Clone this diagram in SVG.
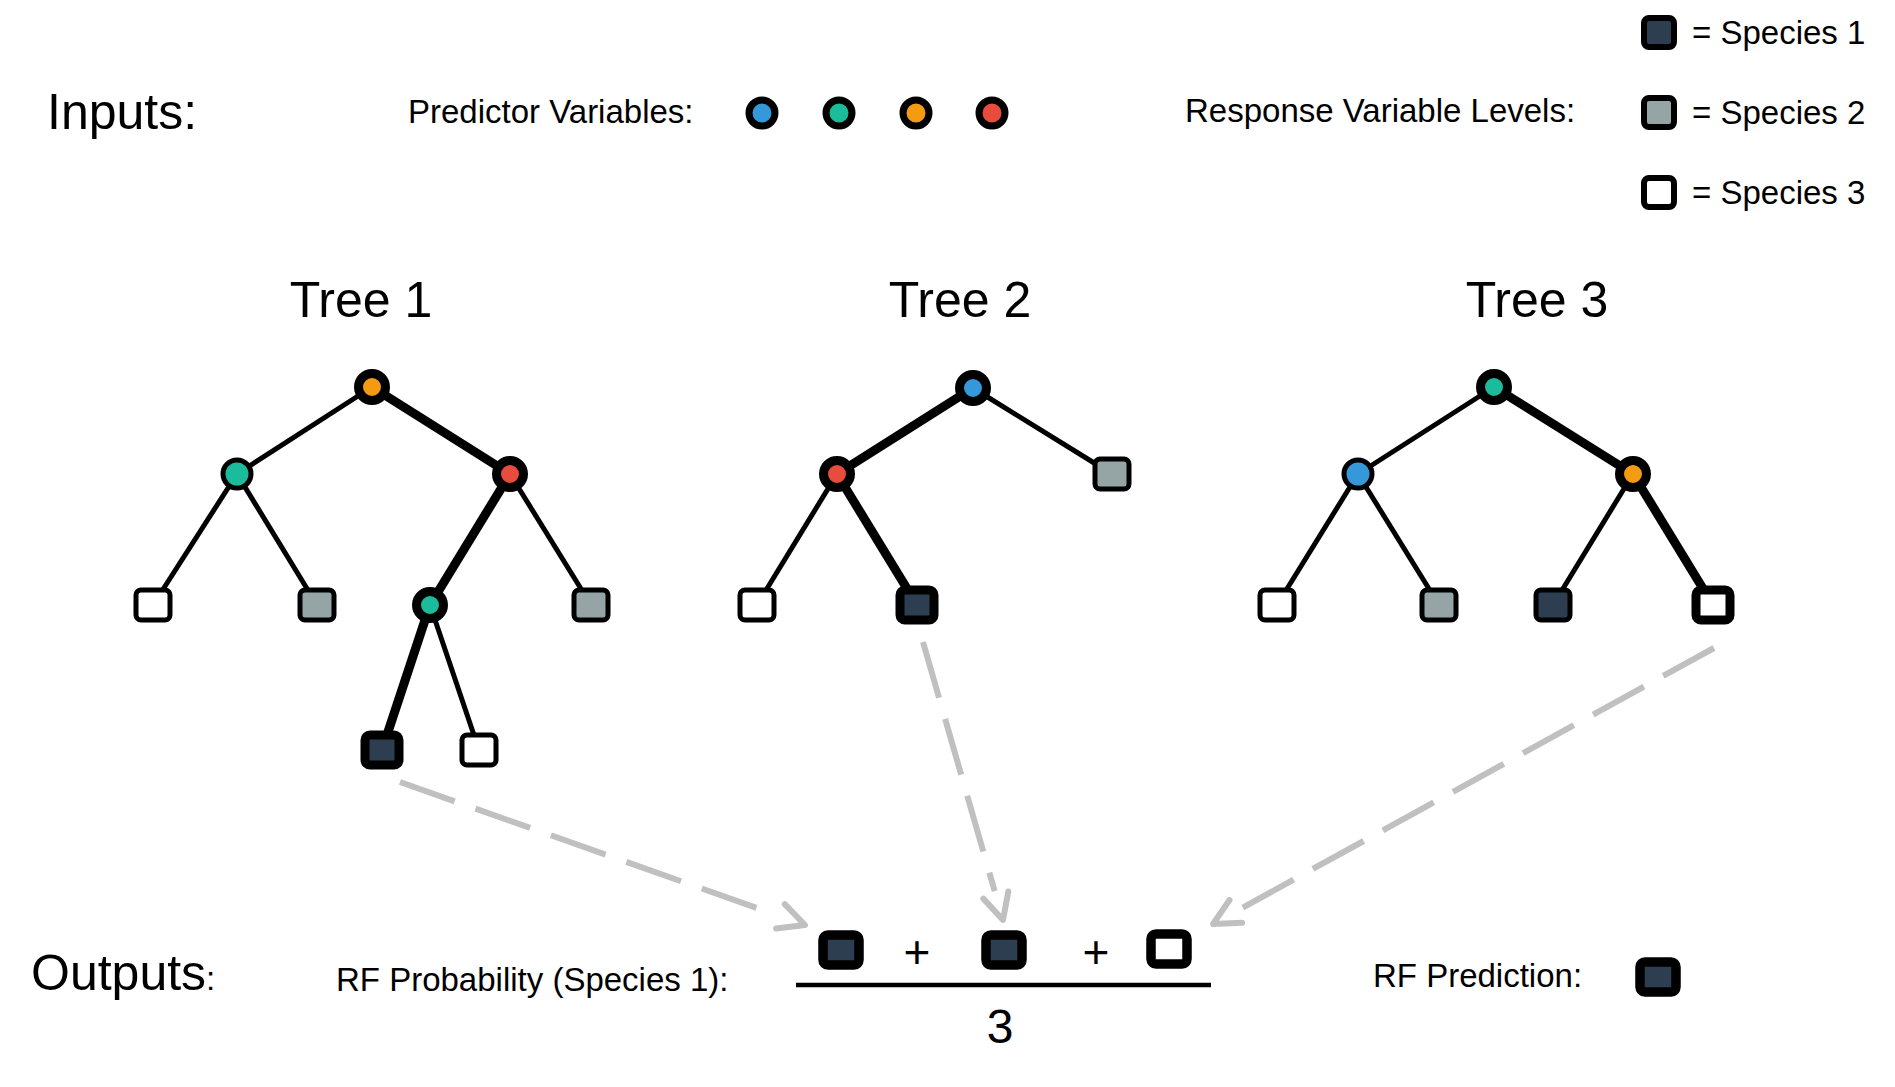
<svg xmlns="http://www.w3.org/2000/svg" width="1895" height="1087" viewBox="0 0 1895 1087">
<defs>
<style>
text{font-family:"Liberation Sans",Arial,Helvetica,sans-serif;fill:#000}
.sm{font-size:33px}
.lg{font-size:50px}
.e{stroke:#000;stroke-width:5;fill:none}
.E{stroke:#000;stroke-width:9;fill:none}
.c{stroke:#000;stroke-width:5}
.C{stroke:#000;stroke-width:9}
.dash{stroke:#c0c0c0;stroke-width:6;fill:none;stroke-dasharray:58 22;marker-end:url(#chev)}
.blue{fill:#3498db}.teal{fill:#1abc9c}.orange{fill:#f39c12}.red{fill:#e74c3c}
.dark{fill:#2c3e50}.gray{fill:#95a5a6}.white{fill:#fff}
</style>
<marker id="chev" markerUnits="userSpaceOnUse" orient="auto" viewBox="-10 -30 60 60" markerWidth="60" markerHeight="60" refX="0" refY="0" overflow="visible">
<path d="M 4 -13 L 30 0 L 4 13" fill="none" stroke="#c0c0c0" stroke-width="6" stroke-linecap="round" stroke-linejoin="round" stroke-dasharray="none"/>
</marker>
<rect id="leaf" x="-17" y="-15" width="34" height="30" rx="5"/>
<rect id="big" x="-18" y="-15" width="36" height="30" rx="5"/>
</defs>
<rect width="1895" height="1087" fill="#fff"/>

<g id="header">
<text class="lg" x="47" y="129">Inputs:</text>
<text class="sm" x="408" y="123">Predictor Variables:</text>
<g id="predictors">
<circle class="blue" cx="762" cy="113" r="13" stroke="#000" stroke-width="7"/>
<circle class="teal" cx="839" cy="113" r="13" stroke="#000" stroke-width="7"/>
<circle class="orange" cx="916" cy="113" r="13" stroke="#000" stroke-width="7"/>
<circle class="red" cx="992" cy="113" r="13" stroke="#000" stroke-width="7"/>
</g>
<text class="sm" x="1185" y="122">Response Variable Levels:</text>
<g id="legend">
<rect class="dark" x="1644" y="18" width="30" height="29" rx="5" stroke="#000" stroke-width="6"/>
<text class="sm" x="1692" y="44">= Species 1</text>
<rect class="gray" x="1644" y="98" width="30" height="29" rx="5" stroke="#000" stroke-width="6"/>
<text class="sm" x="1692" y="124">= Species 2</text>
<rect class="white" x="1644" y="178" width="30" height="29" rx="5" stroke="#000" stroke-width="6"/>
<text class="sm" x="1692" y="204">= Species 3</text>
</g>
</g>

<g id="titles">
<text class="lg" x="361" y="317" text-anchor="middle">Tree 1</text>
<text class="lg" x="960" y="317" text-anchor="middle">Tree 2</text>
<text class="lg" x="1537" y="317" text-anchor="middle">Tree 3</text>
</g>

<g id="connectors">
<!-- Tree 1 -->
<line class="e" x1="372" y1="387" x2="237" y2="474"/>
<line class="E" x1="372" y1="387" x2="510" y2="474"/>
<line class="e" x1="237" y1="474" x2="153" y2="605"/>
<line class="e" x1="237" y1="474" x2="317" y2="605"/>
<line class="E" x1="510" y1="474" x2="430" y2="605"/>
<line class="e" x1="510" y1="474" x2="591" y2="605"/>
<line class="E" x1="430" y1="605" x2="382" y2="750"/>
<line class="e" x1="430" y1="605" x2="479" y2="750"/>
<!-- Tree 2 -->
<line class="E" x1="973" y1="388" x2="837" y2="474"/>
<line class="e" x1="973" y1="388" x2="1112" y2="474"/>
<line class="e" x1="837" y1="474" x2="757" y2="605"/>
<line class="E" x1="837" y1="474" x2="917" y2="605"/>
<!-- Tree 3 -->
<line class="e" x1="1494" y1="387" x2="1358" y2="474"/>
<line class="E" x1="1494" y1="387" x2="1633" y2="474"/>
<line class="e" x1="1358" y1="474" x2="1277" y2="605"/>
<line class="e" x1="1358" y1="474" x2="1439" y2="605"/>
<line class="e" x1="1633" y1="474" x2="1553" y2="605"/>
<line class="E" x1="1633" y1="474" x2="1713" y2="605"/>
<!-- dashed arrows -->
<line class="dash" x1="400" y1="782" x2="776.7" y2="915"/>
<line class="dash" x1="923" y1="642" x2="994.7" y2="891.2"/>
<line class="dash" x1="1714" y1="648" x2="1239.3" y2="909.5"/>
</g>

<g id="tree1">
<circle id="t1-root" class="orange C" cx="372" cy="387" r="13.5"/>
<circle id="t1-l" class="teal c" cx="237" cy="474" r="14"/>
<circle id="t1-r" class="red C" cx="510" cy="474" r="13.5"/>
<use id="t1-ll" href="#leaf" x="153" y="605" class="white c"/>
<use id="t1-lr" href="#leaf" x="317" y="605" class="gray c"/>
<circle id="t1-rl" class="teal C" cx="430" cy="605" r="13.5"/>
<use id="t1-rr" href="#leaf" x="591" y="605" class="gray c"/>
<use id="t1-rll" href="#leaf" x="382" y="750" class="dark C"/>
<use id="t1-rlr" href="#leaf" x="479" y="750" class="white c"/>
</g>

<g id="tree2">
<circle id="t2-root" class="blue C" cx="973" cy="388" r="13.5"/>
<circle id="t2-l" class="red C" cx="837" cy="474" r="13.5"/>
<use id="t2-r" href="#leaf" x="1112" y="474" class="gray c"/>
<use id="t2-ll" href="#leaf" x="757" y="605" class="white c"/>
<use id="t2-lr" href="#leaf" x="917" y="605" class="dark C"/>
</g>

<g id="tree3">
<circle id="t3-root" class="teal C" cx="1494" cy="387" r="13.5"/>
<circle id="t3-l" class="blue c" cx="1358" cy="474" r="14"/>
<circle id="t3-r" class="orange C" cx="1633" cy="474" r="13.5"/>
<use id="t3-ll" href="#leaf" x="1277" y="605" class="white c"/>
<use id="t3-lr" href="#leaf" x="1439" y="605" class="gray c"/>
<use id="t3-rl" href="#leaf" x="1553" y="605" class="dark c"/>
<use id="t3-rr" href="#leaf" x="1713" y="605" class="white C"/>
</g>

<g id="outputs">
<text x="31" y="990"><tspan class="lg">Outputs</tspan><tspan class="sm">:</tspan></text>
<text class="sm" x="336" y="991">RF Probability (Species 1):</text>
<g id="formula">
<use href="#big" x="841" y="950" class="dark" stroke="#000" stroke-width="9.5"/>
<text x="917" y="968" font-size="46" text-anchor="middle">+</text>
<use href="#big" x="1004" y="950" class="dark" stroke="#000" stroke-width="9.5"/>
<text x="1096" y="968" font-size="46" text-anchor="middle">+</text>
<use href="#big" x="1169" y="949" class="white" stroke="#000" stroke-width="9.5"/>
<line x1="796" y1="985" x2="1211" y2="985" stroke="#000" stroke-width="4.5"/>
<text x="1000" y="1043" font-size="48" text-anchor="middle">3</text>
</g>
<text class="sm" x="1373" y="987">RF Prediction:</text>
<use id="prediction" href="#big" x="1658" y="977" class="dark" stroke="#000" stroke-width="9.5"/>
</g>
</svg>
